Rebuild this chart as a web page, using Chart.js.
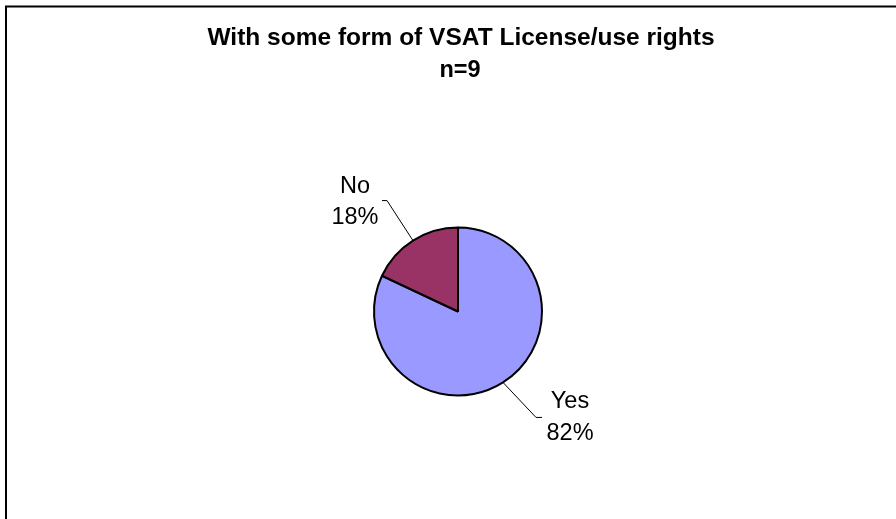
<!DOCTYPE html>
<html>
<head>
<meta charset="utf-8">
<script src="https://cdn.jsdelivr.net/npm/chart.js@4.4.1/dist/chart.umd.min.js"></script>
<style>
  html, body { margin: 0; padding: 0; background: #fff; }
  #wrap { width: 896px; height: 519px; position: relative; }
</style>
</head>
<body>
<div id="wrap"><canvas id="pie"></canvas></div>
<script>
// Données
const categories = ['Yes', 'No'];
const shares = [82, 18];
const titleLines = ['With some form of VSAT License/use rights', 'n=9'];

const sliceColors = ['#9999FF', '#993366'];
const FONT = '"Liberation Sans", Arial, sans-serif';

// leader line: elbow offset from the slice edge, then label text placement
const labelLayout = [
  { dx: 33, dy: 35, tail: 6, textDx: 34, line1: -9, line2: 23 },
  { dx: -26, dy: -40, tail: -5, textDx: -32, line1: -8, line2: 23 }
];

// cadre + titre
const framePlugin = {
  id: 'frame',
  beforeDraw(chart) {
    const c = chart.ctx;
    c.save();
    c.fillStyle = '#fff';
    c.fillRect(0, 0, chart.width, chart.height);
    c.strokeStyle = '#000';
    c.lineWidth = 2;
    c.strokeRect(6, 6.5, 1200, 1200);
    c.fillStyle = '#000';
    c.font = 'bold 24.5px ' + FONT;
    c.textAlign = 'center';
    c.textBaseline = 'alphabetic';
    c.fillText(titleLines[0], 461, 45);
    c.font = 'bold 23.5px ' + FONT;
    c.fillText(titleLines[1], 460, 77);
    c.restore();
  }
};

// étiquettes externes avec lignes de rappel
const labelPlugin = {
  id: 'outLabels',
  afterDatasetsDraw(chart) {
    const c = chart.ctx;
    const meta = chart.getDatasetMeta(0);
    c.save();
    meta.data.forEach((arc, i) => {
      const p = arc.getProps(['x', 'y', 'startAngle', 'endAngle', 'outerRadius'], true);
      const mid = (p.startAngle + p.endAngle) / 2;
      const ex = p.x + Math.cos(mid) * p.outerRadius;
      const ey = p.y + Math.sin(mid) * p.outerRadius;
      const L = labelLayout[i];
      const kx = ex + L.dx, ky = ey + L.dy;
      c.strokeStyle = '#000';
      c.lineWidth = 1;
      c.beginPath();
      c.moveTo(ex, ey);
      c.lineTo(kx, ky);
      c.lineTo(kx + L.tail, ky);
      c.stroke();
      c.fillStyle = '#000';
      c.font = '23.5px ' + FONT;
      c.textAlign = 'center';
      c.fillText(categories[i], kx + L.textDx, ky + L.line1);
      c.fillText(shares[i] + '%', kx + L.textDx, ky + L.line2);
    });
    c.restore();
  }
};

new Chart(document.getElementById('pie'), {
  type: 'pie',
  data: {
    labels: categories,
    datasets: [{
      data: shares,
      backgroundColor: sliceColors,
      borderColor: '#000',
      borderWidth: 2
    }]
  },
  options: {
    responsive: true,
    maintainAspectRatio: false,
    animation: false,
    layout: { padding: { top: 226, bottom: 122, left: 373, right: 353 } },
    plugins: {
      legend: { display: false },
      title: { display: false },
      tooltip: { enabled: false }
    }
  },
  plugins: [framePlugin, labelPlugin]
});
</script>
</body>
</html>
